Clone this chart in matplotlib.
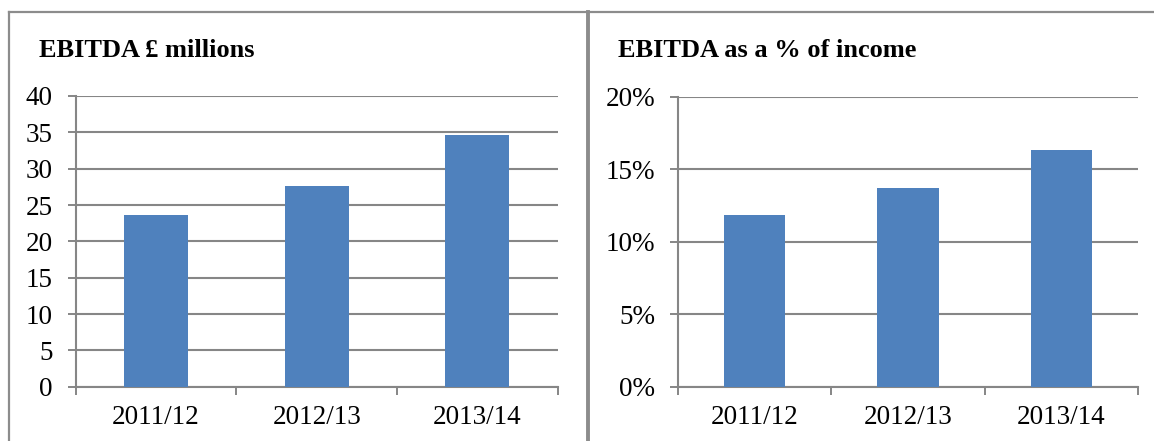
import matplotlib
matplotlib.use("Agg")
import matplotlib.pyplot as plt
from matplotlib.lines import Line2D
from matplotlib.ticker import FuncFormatter

years = ["2011/12", "2012/13", "2013/14"]
ebitda = [23.6, 27.65, 34.7]          # £ millions
ebitda_pct = [11.85, 13.7, 16.3]      # % of income

bar_col = "#4F81BD"
grid_col = "#868686"
W, H = 1154, 441

plt.rcParams["font.family"] = ["Liberation Serif", "DejaVu Serif"]

fig = plt.figure(figsize=(W / 100, H / 100), dpi=100)


def setup(ax, values, ymax, ystep, fmt, title, title_x):
    x = list(range(len(values)))
    ax.bar(x, values, width=0.4, color=bar_col, zorder=3)
    ax.set_xlim(-0.5, len(values) - 0.5)
    ax.set_ylim(0, ymax)
    ax.set_yticks([i * ystep for i in range(int(ymax / ystep) + 1)])
    ax.yaxis.set_major_formatter(FuncFormatter(fmt))
    ax.set_xticks([i - 0.5 for i in range(len(values) + 1)])
    ax.set_xticklabels([])
    ax.set_xticks(x, minor=True)
    ax.set_xticklabels(years, minor=True)
    ax.tick_params(axis="x", which="minor", length=0, pad=13, labelsize=19.5)
    ax.tick_params(axis="x", which="major", length=6, width=1.4, color=grid_col)
    ax.tick_params(axis="y", length=6, width=1.4, color=grid_col, pad=10.5, labelsize=19.5)
    ax.yaxis.grid(True, color=grid_col, linewidth=1.5, zorder=0)
    ax.set_axisbelow(True)
    for s in ["top", "right"]:
        ax.spines[s].set_visible(False)
    for s in ["left", "bottom"]:
        ax.spines[s].set_color(grid_col)
        ax.spines[s].set_linewidth(1.5)
    fig.text(title_x / W, 1 - 57 / H, title, fontsize=19, fontweight="bold")


ax1 = fig.add_axes([75.8 / W, 1 - 386.7 / H, 481.8 / W, 290.7 / H])
setup(ax1, ebitda, 40, 5, lambda v, p: f"{v:.0f}", "EBITDA £ millions", 39)

ax2 = fig.add_axes([678 / W, 1 - 386.7 / H, 460 / W, 290 / H])
setup(ax2, ebitda_pct, 20, 5, lambda v, p: f"{v:.0f}%", "EBITDA as a % of income", 618)

# panel borders
border = "#8C8C8C"
fig.add_artist(Line2D([9 / W, 1], [1 - 12 / H] * 2, color=border, linewidth=1.6))
fig.add_artist(Line2D([9 / W] * 2, [0, 1 - 12 / H], color=border, linewidth=1.6))
fig.add_artist(Line2D([588 / W] * 2, [0, 1 - 12 / H], color=border, linewidth=2.8))

fig.savefig("out.png", dpi=100)
